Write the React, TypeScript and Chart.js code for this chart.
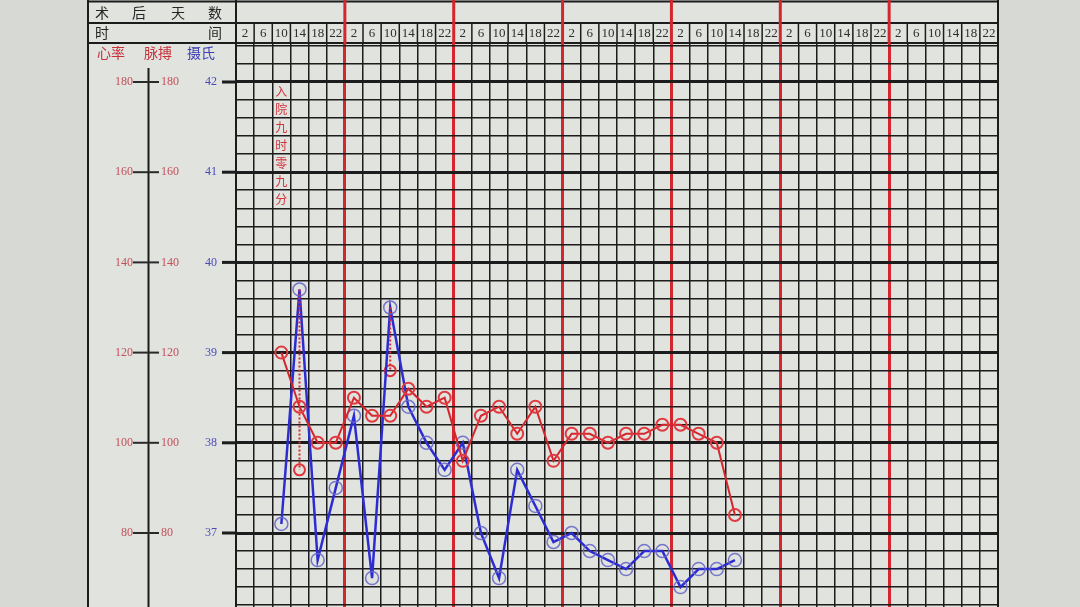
import React, { useEffect, useRef } from "react";
import { Chart, registerables } from "chart.js";

Chart.register(...registerables);

// ---------- data ----------
const dayCount = 7;
const timeLabels = ["2", "6", "10", "14", "18", "22"];
const tempTickLabels = [42, 41, 40, 39, 38, 37];
const pulseTickLabels = [180, 160, 140, 120, 100, 80];
const headerRow1 = ["术", "后", "天", "数"];
const headerRow2 = ["时", "间"];
const legendLabels = ["心率", "脉搏", "摄氏"];

// column index (6 columns per day) of each reading
const readingCols = [2, 3, 4, 5, 6, 7, 8, 9, 10, 11, 12, 13, 14, 15, 16, 17, 18, 19, 20, 21, 22, 23, 24, 25, 26, 27];
const temperatures = [37.1, 39.7, 36.7, 37.5, 38.3, 36.5, 39.5, 38.4, 38.0, 37.7, 38.0, 37.0, 36.5, 37.7, 37.3, 36.9, 37.0, 36.8, 36.7, 36.6, 36.8, 36.8, 36.4, 36.6, 36.6, 36.7];
const pulses = [120, 108, 100, 100, 110, 106, 106, 112, 108, 110, 96, 106, 108, 102, 108, 96, 102, 102, 100, 102, 102, 104, 104, 102, 100, 84];
const coolingCols = [3, 8];
const coolingTemps = [37.7, 38.8];
const admissionNote = "入院九时零九分";
const admissionCol = 2;

// ---------- layout / style ----------
const W = 1080;
const H = 660;
const VIEW_H = 607;
const TABLE_L = 88;
const GRID_L = 236;
const GRID_R = 998;
const GRID_T = 43;
const GRID_B = 643;
const PX_PER_DEG = 90.2;
const T_MAX = 42 + 39 / PX_PER_DEG;
const T_MIN = T_MAX - (GRID_B - GRID_T) / PX_PER_DEG;
const P_MAX = (T_MAX - 33) * 20;
const P_MIN = (T_MIN - 33) * 20;
const COLS = dayCount * timeLabels.length;

const RED = "#d3262e";
const BLACK = "#1c1c1c";
const LABEL_RED = "#c4505a";
const LABEL_BLUE = "#4a4ab8";
const CJK = '"Noto Sans CJK SC", "Noto Sans", sans-serif';
const SERIF = '"Liberation Serif", "DejaVu Serif", serif';

const line = (ctx: CanvasRenderingContext2D, x1: number, y1: number, x2: number, y2: number, w: number, c: string) => {
  ctx.beginPath();
  ctx.lineWidth = w;
  ctx.strokeStyle = c;
  ctx.moveTo(x1, y1);
  ctx.lineTo(x2, y2);
  ctx.stroke();
};

const tablePlugin = {
  id: "tablePlugin",
  beforeDraw(chart: any) {
    const ctx = chart.ctx as CanvasRenderingContext2D;
    ctx.save();
    ctx.fillStyle = "#d6d9d4";
    ctx.fillRect(0, 0, W, H);
    ctx.fillStyle = "#e0e3de";
    ctx.fillRect(TABLE_L, 0, GRID_R - TABLE_L, H);
    ctx.restore();
  },
  beforeDatasetsDraw(chart: any) {
    const ctx = chart.ctx as CanvasRenderingContext2D;
    const xs = chart.scales.x;
    const ys = chart.scales.y;
    ctx.save();
    ctx.font = `12px ${CJK}`;
    ctx.fillStyle = "#d2343e";
    ctx.textAlign = "center";
    ctx.textBaseline = "middle";
    const x = xs.getPixelForValue(admissionCol + 0.5);
    Array.from(admissionNote).forEach((ch, k) => {
      ctx.fillText(ch, x, ys.getPixelForValue(41.9 - 0.2 * k));
    });
    ctx.restore();
  },
  afterDraw(chart: any) {
    const ctx = chart.ctx as CanvasRenderingContext2D;
    const xs = chart.scales.x;
    const ys = chart.scales.y;
    const yp = chart.scales.yPulse;
    ctx.save();
    // header horizontal lines
    line(ctx, TABLE_L, 1.5, GRID_R, 1.5, 2, BLACK);
    line(ctx, TABLE_L, 23, GRID_R, 23, 1.8, BLACK);
    line(ctx, TABLE_L, GRID_T, GRID_R, GRID_T, 1.8, BLACK);
    // column lines in the time row
    for (let c = 1; c < COLS; c++) {
      if (c % timeLabels.length === 0) continue;
      const x = xs.getPixelForValue(c);
      line(ctx, x, 23, x, GRID_T, 1.5, BLACK);
    }
    // outer verticals
    line(ctx, TABLE_L, 0, TABLE_L, H, 2, BLACK);
    line(ctx, GRID_L, 0, GRID_L, H, 2, BLACK);
    line(ctx, GRID_R, 0, GRID_R, H, 2, BLACK);
    // red day lines in header
    for (let d = 1; d < dayCount; d++) {
      const x = xs.getPixelForValue(d * timeLabels.length);
      line(ctx, x, 0, x, GRID_T + 1, 3, RED);
    }
    // header text
    ctx.textBaseline = "middle";
    ctx.textAlign = "center";
    ctx.fillStyle = "#262626";
    ctx.font = `14px ${CJK}`;
    const r1x = [102, 139, 178, 215];
    headerRow1.forEach((t, i) => ctx.fillText(t, r1x[i], 13));
    const r2x = [102, 215];
    headerRow2.forEach((t, i) => ctx.fillText(t, r2x[i], 33));
    const lgx = [111, 158, 201];
    const lgc = ["#c8323e", "#c8323e", "#4040b4"];
    legendLabels.forEach((t, i) => {
      ctx.fillStyle = lgc[i];
      ctx.fillText(t, lgx[i], 53);
    });
    // time labels
    ctx.font = `13px ${SERIF}`;
    ctx.fillStyle = "#2e2e2e";
    for (let d = 0; d < dayCount; d++) {
      timeLabels.forEach((t, i) => {
        ctx.fillText(t, xs.getPixelForValue(d * timeLabels.length + i + 0.5), 33.5);
      });
    }
    // left axis area
    line(ctx, 148.5, 68, 148.5, H, 2, BLACK);
    ctx.font = `12px ${SERIF}`;
    pulseTickLabels.forEach((p, i) => {
      const y = yp.getPixelForValue(p);
      line(ctx, 133, y, 159, y, 2, "#2a2a2a");
      ctx.fillStyle = LABEL_RED;
      ctx.textAlign = "right";
      ctx.fillText(String(p), 133, y);
      ctx.textAlign = "left";
      ctx.fillText(String(p), 161, y);
      const t = tempTickLabels[i];
      const yt = ys.getPixelForValue(t);
      ctx.fillStyle = LABEL_BLUE;
      ctx.textAlign = "right";
      ctx.fillText(String(t), 217, yt);
      line(ctx, 222, yt, GRID_L, yt, 3, BLACK);
    });
    ctx.restore();
  },
};

export default function App() {
  const ref = useRef<HTMLCanvasElement | null>(null);

  useEffect(() => {
    if (!ref.current) return;
    const tempData = readingCols.map((c, i) => ({ x: c + 0.5, y: temperatures[i] }));
    const pulseData = readingCols.map((c, i) => ({ x: c + 0.5, y: pulses[i] }));
    const coolLineData: any[] = [];
    coolingCols.forEach((c, i) => {
      coolLineData.push({ x: c + 0.5, y: temperatures[readingCols.indexOf(c)] });
      coolLineData.push({ x: c + 0.5, y: coolingTemps[i] });
      coolLineData.push({ x: c + 0.5, y: null });
    });
    const coolPointData = coolingCols.map((c, i) => ({ x: c + 0.5, y: coolingTemps[i] }));

    const chart = new Chart(ref.current, {
      type: "line",
      data: {
        datasets: [
          {
            label: "降温",
            data: coolLineData,
            yAxisID: "y",
            borderColor: "#d82a32",
            borderWidth: 2,
            borderDash: [2, 2],
            pointRadius: 0,
            spanGaps: false,
          },
          {
            label: "脉搏",
            data: pulseData,
            yAxisID: "yPulse",
            borderColor: "#d4262c",
            borderWidth: 2,
            pointRadius: 6,
            pointBorderColor: "#e03a40",
            pointBorderWidth: 2,
            pointBackgroundColor: "rgba(0,0,0,0)",
          },
          {
            label: "体温",
            data: tempData,
            yAxisID: "y",
            borderColor: "#2c2cd2",
            borderWidth: 2.5,
            pointRadius: 6.5,
            pointBorderColor: "rgba(105,105,200,0.9)",
            pointBorderWidth: 1.5,
            pointBackgroundColor: "rgba(0,0,0,0)",
          },
          {
            label: "降温后",
            data: coolPointData,
            yAxisID: "y",
            showLine: false,
            pointRadius: 5.5,
            pointBorderColor: "#e0343c",
            pointBorderWidth: 2,
            pointBackgroundColor: "rgba(0,0,0,0)",
          },
        ],
      },
      options: {
        responsive: false,
        animation: false,
        events: [],
        layout: {
          autoPadding: false,
          padding: { left: GRID_L, right: W - GRID_R, top: GRID_T, bottom: H - GRID_B },
        },
        plugins: { legend: { display: false }, tooltip: { enabled: false } },
        scales: {
          x: {
            type: "linear",
            min: 0,
            max: COLS,
            afterFit: (s: any) => {
              s.height = 0;
            },
            afterBuildTicks: (s: any) => {
              s.ticks = Array.from({ length: COLS + 1 }, (_, i) => ({ value: i }));
            },
            ticks: { display: false },
            border: { display: false },
            grid: {
              drawTicks: false,
              color: (c: any) => {
                const v = c.tick.value;
                return v % timeLabels.length === 0 && v > 0 && v < COLS ? RED : BLACK;
              },
              lineWidth: (c: any) => {
                const v = c.tick.value;
                if (v % timeLabels.length === 0 && v > 0 && v < COLS) return 3;
                return v === 0 || v === COLS ? 2 : 1.5;
              },
            },
          },
          y: {
            type: "linear",
            position: "left",
            min: T_MIN,
            max: T_MAX,
            afterFit: (s: any) => {
              s.width = 0;
            },
            afterBuildTicks: (s: any) => {
              const t: any[] = [];
              for (let k = Math.ceil(s.min * 5 - 1e-9); k <= Math.floor(s.max * 5 + 1e-9); k++) t.push({ value: k / 5 });
              s.ticks = t;
            },
            ticks: { display: false },
            border: { display: false },
            grid: {
              drawTicks: false,
              color: BLACK,
              lineWidth: (c: any) => {
                const v = c.tick.value;
                return Math.abs(v - Math.round(v)) < 1e-6 ? 3 : 1.5;
              },
            },
          },
          yPulse: {
            type: "linear",
            display: false,
            min: P_MIN,
            max: P_MAX,
          },
        },
      },
      plugins: [tablePlugin],
    } as any);
    return () => chart.destroy();
  }, []);

  return (
    <div
      style={{
        position: "fixed",
        left: 0,
        top: 0,
        width: W,
        height: VIEW_H,
        overflow: "hidden",
        background: "#d6d9d4",
      }}
    >
      <canvas ref={ref} width={W} height={H} style={{ display: "block" }} />
    </div>
  );
}
